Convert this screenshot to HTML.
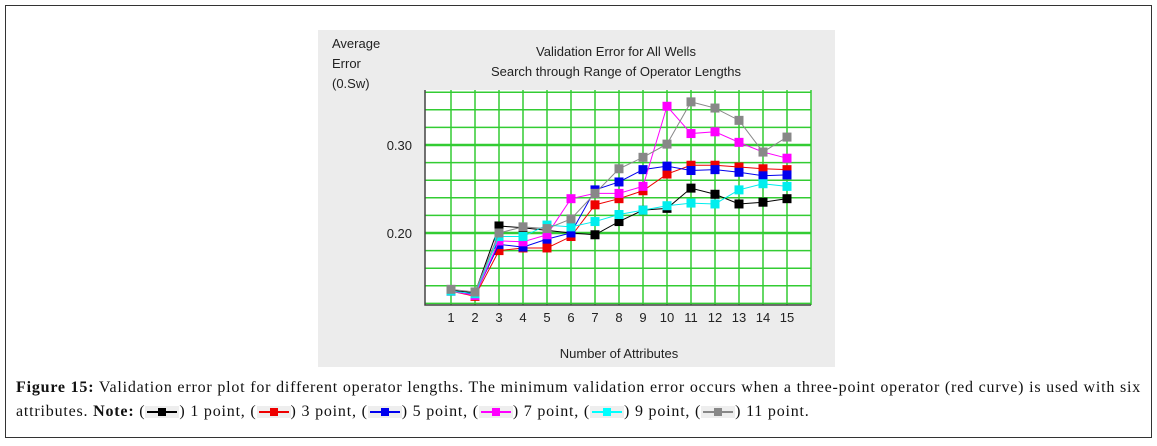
<!DOCTYPE html>
<html><head><meta charset="utf-8"><style>
body{margin:0;width:1157px;height:446px;background:#fff;overflow:hidden;position:relative;font-family:"Liberation Sans",sans-serif}
#frame{position:absolute;left:5px;top:5px;width:1145px;height:431px;border:1px solid #333}
#cap{position:absolute;left:16px;top:376px;width:1140px;font-family:"Liberation Serif",serif;font-size:16px;letter-spacing:0.8px;line-height:24px;color:#111;white-space:nowrap}
.sw{display:inline-block;width:34px;height:12px;position:relative;vertical-align:middle;background:#eee}
.sw i{position:absolute;left:2px;right:2px;top:5px;height:2px}
.sw b{position:absolute;left:13px;top:2px;width:8px;height:8px}
</style></head><body>
<div id="frame"></div>
<svg id="chart" width="1157" height="446" style="position:absolute;left:0;top:0">
<rect x="318" y="30" width="517" height="337" fill="#ececec"/>
<rect x="425" y="90" width="386" height="215" fill="#fff"/>
<g font-family="Liberation Sans,sans-serif" font-size="13" fill="#222">
<text x="332" y="48">Average</text>
<text x="332" y="68">Error</text>
<text x="332" y="88">(0.Sw)</text>
<text x="616" y="56" text-anchor="middle">Validation Error for All Wells</text>
<text x="616" y="76" text-anchor="middle">Search through Range of Operator Lengths</text>
<text x="619" y="358" text-anchor="middle">Number of Attributes</text>
</g>
<g id="grid"></g><g id="series"></g><g id="ticks" font-family="Liberation Sans,sans-serif" font-size="13" fill="#222"></g>
</svg>
<div id="cap"><b>Figure 15:</b> Validation error plot for different operator lengths. The minimum validation error occurs when a three-point operator (red curve) is used with six<br>attributes. <b>Note:</b> (<span class="sw"><i style="background:#000"></i><b style="background:#000"></b></span>) 1 point, (<span class="sw"><i style="background:#e00"></i><b style="background:#e00"></b></span>) 3 point, (<span class="sw"><i style="background:#00e"></i><b style="background:#00e"></b></span>) 5 point, (<span class="sw"><i style="background:#f0f"></i><b style="background:#f0f"></b></span>) 7 point, (<span class="sw"><i style="background:#0ff"></i><b style="background:#0ff"></b></span>) 9 point, (<span class="sw"><i style="background:#888"></i><b style="background:#888"></b></span>) 11 point.</div>
<script>
const categories=[1,2,3,4,5,6,7,8,9,10,11,12,13,14,15];
const s1=[0.135,0.132,0.208,0.206,0.203,0.200,0.198,0.213,0.226,0.228,0.251,0.244,0.233,0.235,0.239];
const s3=[0.134,0.128,0.180,0.183,0.183,0.196,0.232,0.239,0.248,0.267,0.277,0.277,0.275,0.273,0.272];
const s5=[0.134,0.130,0.187,0.184,0.193,0.200,0.249,0.258,0.272,0.276,0.271,0.272,0.269,0.265,0.266];
const s7=[0.134,0.129,0.191,0.190,0.198,0.239,0.245,0.245,0.253,0.344,0.313,0.315,0.303,0.292,0.285];
const s9=[0.134,0.131,0.196,0.196,0.209,0.207,0.213,0.221,0.226,0.231,0.234,0.233,0.249,0.256,0.253];
const s11=[0.136,0.133,0.200,0.207,0.205,0.216,0.245,0.273,0.286,0.301,0.349,0.342,0.328,0.292,0.309];
const yTicks=[0.20,0.30];
const NS="http://www.w3.org/2000/svg";
const x=c=>451+(c-1)*24;
const y=v=>145-(v-0.30)*880;
function mk(t,a,p){const e=document.createElementNS(NS,t);for(const k in a)e.setAttribute(k,a[k]);p.appendChild(e);return e;}
const g=document.getElementById('grid');
for(let v=0.12;v<=0.362;v+=0.02){const l=mk('line',{x1:425,x2:811,y1:y(v),y2:y(v),stroke:'#3c3',"stroke-width":Math.abs(v-0.2)<0.001||Math.abs(v-0.3)<0.001?2.5:1.5},g);

}
for(let c=1;c<=16;c++){const l=mk('line',{x1:x(c),x2:x(c),y1:90,y2:305,stroke:'#3c3',"stroke-width":1.5},g);

}
const ax=mk('path',{d:'M425 90V305H811',fill:'none',stroke:'#444',"stroke-width":1.5},g);


const t=document.getElementById('ticks');
yTicks.forEach(v=>{const e=mk('text',{x:412,y:y(v)+5,"text-anchor":"end"},t);e.textContent=v.toFixed(2);

});
categories.forEach(c=>{const e=mk('text',{x:x(c),y:322,"text-anchor":"middle"},t);e.textContent=c;

});
const S=document.getElementById('series');
[[s1,'#000','series-1-point'],[s3,'#e00','series-3-point'],[s5,'#00e','series-5-point'],[s7,'#f0f','series-7-point'],[s9,'#0ee','series-9-point'],[s11,'#888','series-11-point']].forEach(([d,col,n])=>{
const grp=mk('g',{},S);


const pl=mk('polyline',{points:d.map((v,i)=>x(categories[i])+','+y(v)).join(' '),fill:'none',stroke:col,"stroke-width":1},grp);


d.forEach((v,i)=>{const r=mk('rect',{x:x(categories[i])-4.5,y:y(v)-4.5,width:9,height:9,fill:col},grp);

});
});
</script>
</body></html>
